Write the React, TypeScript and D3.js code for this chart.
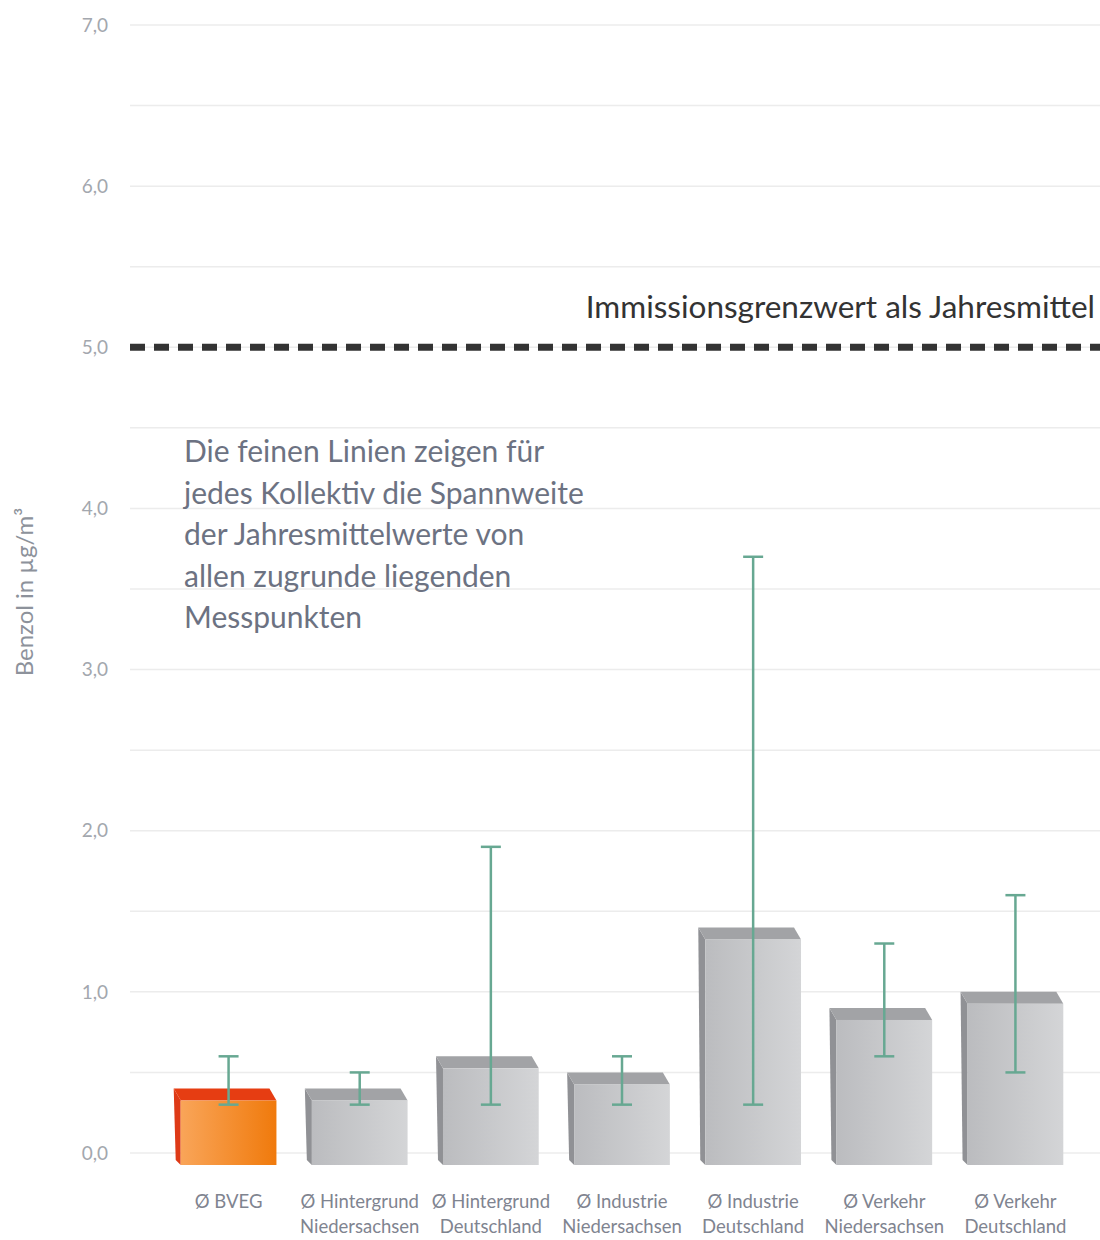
import * as d3 from "d3";
import React from "react";

const categories = [
  "Ø BVEG",
  "Ø Hintergrund Niedersachsen",
  "Ø Hintergrund Deutschland",
  "Ø Industrie Niedersachsen",
  "Ø Industrie Deutschland",
  "Ø Verkehr Niedersachsen",
  "Ø Verkehr Deutschland",
];
const labelLines = [
  ["Ø BVEG"],
  ["Ø Hintergrund", "Niedersachsen"],
  ["Ø Hintergrund", "Deutschland"],
  ["Ø Industrie", "Niedersachsen"],
  ["Ø Industrie", "Deutschland"],
  ["Ø Verkehr", "Niedersachsen"],
  ["Ø Verkehr", "Deutschland"],
];
const means = [0.4, 0.4, 0.6, 0.5, 1.4, 0.9, 1.0];
const rangeMin = [0.3, 0.3, 0.3, 0.3, 0.3, 0.6, 0.5];
const rangeMax = [0.6, 0.5, 1.9, 0.6, 3.7, 1.3, 1.6];
const yTicks = [0, 1, 2, 3, 4, 5, 6, 7];
const gridTicks = d3.range(0, 7.01, 0.5);
const limitValue = 5.0;
const limitLabel = "Immissionsgrenzwert als Jahresmittel";
const noteLines = [
  "Die feinen Linien zeigen für",
  "jedes Kollektiv die Spannweite",
  "der Jahresmittelwerte von",
  "allen zugrunde liegenden",
  "Messpunkten",
];

const W = 1100;
const H = 1240;
const font = "Lato, 'Open Sans', sans-serif";

const App: React.FC = () => {
  const y = d3.scaleLinear().domain([0, 7]).range([1153, 25]);
  const x = d3
    .scaleBand<string>()
    .domain(categories)
    .range([163, 1081])
    .paddingInner(0.27)
    .paddingOuter(0.135);
  const bw = x.bandwidth();
  const dx = 7;
  const dy = 12;
  const fmt = (v: number) => v.toFixed(1).replace(".", ",");

  return (
    <div style={{ position: "absolute", left: 0, top: 0 }}>
      <svg width={W} height={H} style={{ display: "block", background: "#fff" }}>
        <defs>
          <linearGradient id="greyFront" x1="0" x2="1" y1="0" y2="0">
            <stop offset="0%" stopColor="#bbbcbf" />
            <stop offset="100%" stopColor="#d4d5d7" />
          </linearGradient>
          <linearGradient id="orangeFront" x1="0" x2="1" y1="0" y2="0">
            <stop offset="0%" stopColor="#f9a559" />
            <stop offset="100%" stopColor="#f07a0c" />
          </linearGradient>
        </defs>

        {/* grid */}
        {gridTicks.map((t) => (
          <line
            key={t}
            x1={130}
            x2={1100}
            y1={y(t)}
            y2={y(t)}
            stroke="#ececec"
            strokeWidth={1.5}
          />
        ))}

        {/* y tick labels */}
        {yTicks.map((t) => (
          <text
            key={t}
            x={108}
            y={y(t)}
            dy="0.35em"
            textAnchor="end"
            fontFamily={font}
            fontSize={19}
            fill="#a3a7ae"
          >
            {fmt(t)}
          </text>
        ))}

        {/* y axis title */}
        <text
          transform={`translate(33,592) rotate(-90)`}
          textAnchor="middle"
          fontFamily={font}
          fontSize={24}
          fill="#8d929b"
        >
          Benzol in µg/m³
        </text>

        {/* limit line */}
        <line
          x1={130}
          x2={1100}
          y1={y(limitValue)}
          y2={y(limitValue)}
          stroke="#333"
          strokeWidth={7}
          strokeDasharray="15 9"
        />
        <text
          x={1095}
          y={318}
          textAnchor="end"
          fontFamily={font}
          fontSize={31.5}
          fill="#333"
        >
          {limitLabel}
        </text>

        {/* note */}
        {noteLines.map((l, i) => (
          <text
            key={i}
            x={184}
            y={462 + i * 41.5}
            fontFamily={font}
            fontSize={30}
            fill="#6c7282"
          >
            {l}
          </text>
        ))}

        {/* bars */}
        {categories.map((c, i) => {
          const x0 = x(c)!;
          const x1 = x0 + bw;
          const yb = y(means[i]);
          const yf = yb + dy;
          const base = y(0) + dy;
          const orange = i === 0;
          return (
            <g key={c}>
              <polygon
                points={`${x0 - dx},${yb} ${x0},${yf} ${x0},${base} ${x0 - dx + 2},${base - 5}`}
                fill={orange ? "#de3a17" : "#909195"}
              />
              <polygon
                points={`${x0 - dx},${yb} ${x1 - dx},${yb} ${x1},${yf} ${x0},${yf}`}
                fill={orange ? "#e63d12" : "#a2a3a6"}
              />
              <rect
                x={x0}
                y={yf}
                width={bw}
                height={base - yf}
                fill={orange ? "url(#orangeFront)" : "url(#greyFront)"}
              />
            </g>
          );
        })}

        {/* range lines */}
        {categories.map((c, i) => {
          const cx = x(c)! + bw / 2;
          const capW = 10;
          return (
            <g key={c} stroke="#67a892" strokeWidth={2.5}>
              <line x1={cx} x2={cx} y1={y(rangeMax[i])} y2={y(rangeMin[i])} />
              <line x1={cx - capW} x2={cx + capW} y1={y(rangeMax[i])} y2={y(rangeMax[i])} />
              <line x1={cx - capW} x2={cx + capW} y1={y(rangeMin[i])} y2={y(rangeMin[i])} />
            </g>
          );
        })}

        {/* x labels */}
        {categories.map((c, i) => {
          const cx = x(c)! + bw / 2;
          return (
            <text
              key={c}
              x={cx}
              textAnchor="middle"
              fontFamily={font}
              fontSize={18.5}
              fill="#7f8490"
            >
              {labelLines[i].map((l, j) => (
                <tspan key={j} x={cx} y={1208 + j * 25}>
                  {l}
                </tspan>
              ))}
            </text>
          );
        })}
      </svg>
    </div>
  );
};

export default App;
